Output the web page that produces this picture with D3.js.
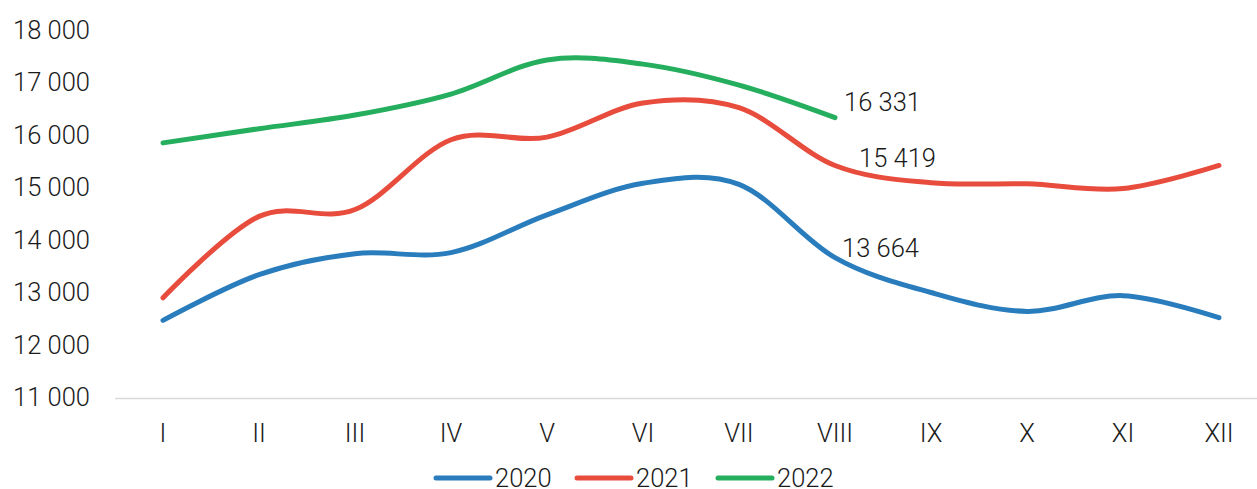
<!DOCTYPE html>
<html>
<head>
<meta charset="utf-8">
<script src="https://cdn.jsdelivr.net/npm/d3@7"></script>
<style>
  body { margin: 0; background: #fff; }
  svg text { font-family: Roboto, "Noto Sans", sans-serif; font-weight: 300; fill: #1a1a1a; }
</style>
</head>
<body>
<svg id="chart"></svg>
<script>
// months (roman numerals)
const months = ["I", "II", "III", "IV", "V", "VI", "VII", "VIII", "IX", "X", "XI", "XII"];
const yTicks = [11000, 12000, 13000, 14000, 15000, 16000, 17000, 18000];

const years = ["2020", "2021", "2022"];
const values2020 = [12470, 13340, 13740, 13760, 14480, 15080, 15060, 13664, 13000, 12640, 12940, 12520];
const values2021 = [12900, 14450, 14580, 15910, 15960, 16610, 16520, 15419, 15090, 15070, 14980, 15420];
const values2022 = [15850, 16120, 16380, 16780, 17430, 17350, 16950, 16331];
const colors = ["#2a7dbd", "#e84c3d", "#24ae5d"];

const width = 1257, height = 489;
const margin = {top: 30, right: -10, bottom: 91, left: 115};
const fontSize = "25.5px";

const svg = d3.select("#chart")
    .attr("width", width)
    .attr("height", height);

const fmt = d3.formatLocale({decimal: ",", thousands: "\u00a0", grouping: [3], currency: ["", ""]}).format(",d");

const x = d3.scaleBand()
    .domain(months)
    .range([margin.left, width - margin.right]);

const y = d3.scaleLinear()
    .domain([11000, 18000])
    .range([height - margin.bottom - 0.5, margin.top]);

// baseline
svg.append("line")
    .attr("x1", margin.left)
    .attr("x2", width)
    .attr("y1", y(11000) + 1)
    .attr("y2", y(11000) + 1)
    .attr("stroke", "#d9d9d9")
    .attr("stroke-width", 1.5);

// y labels
svg.selectAll(".ylab")
    .data(yTicks)
    .enter()
    .append("text")
    .attr("class", "ylab")
    .attr("x", 90)
    .attr("y", d => y(d))
    .attr("dy", "0.35em")
    .attr("text-anchor", "end")
    .style("font-size", fontSize)
    .text(d => fmt(d));

// x labels
svg.selectAll(".xlab")
    .data(months)
    .enter()
    .append("text")
    .attr("class", "xlab")
    .attr("x", d => x(d) + x.bandwidth() / 2)
    .attr("y", 433)
    .attr("dy", "0.35em")
    .attr("text-anchor", "middle")
    .style("font-size", fontSize)
    .text(d => d);

const line = d3.line()
    .x((d, i) => x(months[i]) + x.bandwidth() / 2)
    .y(d => y(d))
    .curve(d3.curveCardinal.tension(0));

const series = [values2020, values2021, values2022];
series.forEach((vals, i) => {
    svg.append("path")
        .datum(vals)
        .attr("fill", "none")
        .attr("stroke", colors[i])
        .attr("stroke-width", 5)
        .attr("stroke-linecap", "round")
        .attr("stroke-linejoin", "round")
        .attr("d", line);
});

// data labels at VIII
const labelPos = [
    {s: 0, dx: 7, dy: -10},
    {s: 1, dx: 24, dy: -7},
    {s: 2, dx: 9, dy: -16}
];
labelPos.forEach(p => {
    const v = series[p.s][7];
    svg.append("text")
        .attr("x", x("VIII") + x.bandwidth() / 2 + p.dx)
        .attr("y", y(v) + p.dy)
        .attr("dy", "0.35em")
        .style("font-size", fontSize)
        .text(fmt(v));
});

// legend
const legendX = [436, 577, 718];
years.forEach((yr, i) => {
    svg.append("line")
        .attr("x1", legendX[i])
        .attr("x2", legendX[i] + 54)
        .attr("y1", 478)
        .attr("y2", 478)
        .attr("stroke", colors[i])
        .attr("stroke-width", 5)
        .attr("stroke-linecap", "round");
    svg.append("text")
        .attr("x", legendX[i] + 59)
        .attr("y", 478)
        .attr("dy", "0.35em")
        .style("font-size", fontSize)
        .text(yr);
});
</script>
</body>
</html>
